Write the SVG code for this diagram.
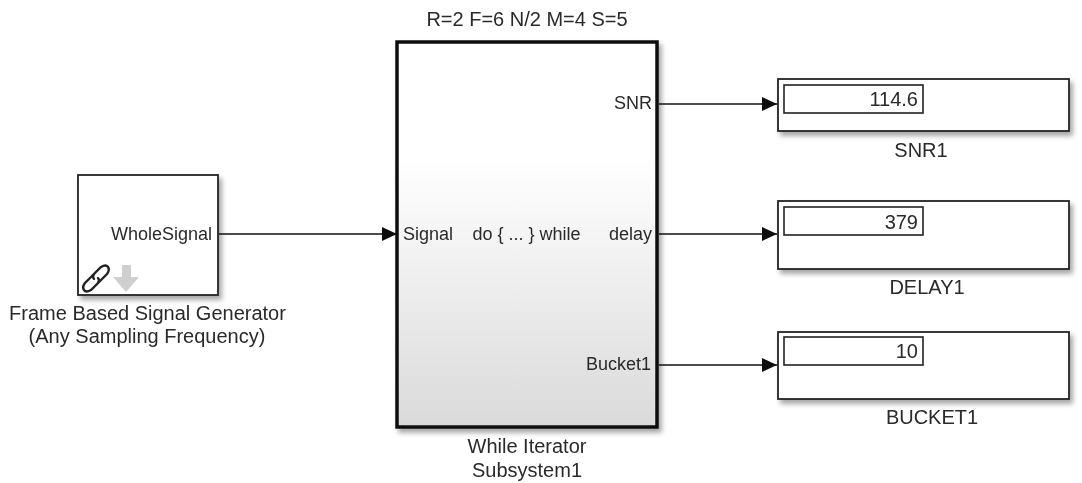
<svg xmlns="http://www.w3.org/2000/svg" width="1082" height="483" viewBox="0 0 1082 483">
<style>
text{font-family:"Liberation Sans",Arial,sans-serif;font-size:20px;fill:#2a2a2a}
.p{font-size:18px}
.m{text-anchor:middle}.e{text-anchor:end}
.b{fill:#fff;stroke:#222;stroke-width:1.8;filter:url(#sh)}
.d{fill:#fff;stroke:#222;stroke-width:1.6}
.c{fill:none;stroke:#111;stroke-width:1.6;marker-end:url(#a)}
.l{fill:none;stroke:#222;stroke-width:2.4;stroke-linecap:round}
</style>
<defs>
<linearGradient id="g" x1="0" y1="0" x2="0" y2="1"><stop offset="0.3" stop-color="#fff"/><stop offset="1" stop-color="#dadada"/></linearGradient>
<filter id="sh" x="-10%" y="-10%" width="125%" height="130%"><feDropShadow dx="3" dy="4" stdDeviation="2.5" flood-color="#000" flood-opacity="0.35"/></filter>
<filter id="soft" filterUnits="userSpaceOnUse" x="0" y="0" width="1082" height="483"><feGaussianBlur stdDeviation="0.45"/></filter>
<marker id="a" markerUnits="userSpaceOnUse" markerWidth="16" markerHeight="14" refX="15" refY="7" orient="auto"><path d="M0 0L15 7L0 14Z" fill="#111"/></marker>
</defs>
<rect width="1082" height="483" fill="#fff"/>
<g filter="url(#soft)">
<g id="generator">
<rect class="b" x="78" y="175" width="140" height="120"/>
<text class="e p" x="212" y="240">WholeSignal</text>
<path class="l" d="M93 275l-8 8q-3 4 -1 7t7 0l7-7q2-3 0-5"/>
<path class="l" d="M99 282l8-8q3-4 1-7t-7 0l-7 7q-2 3 0 5"/>
<path d="M122 265h9v12h8l-13 15l-13-15h9z" fill="#cfcfcf"/>
<text class="m" x="147.500" y="320">Frame Based Signal Generator</text>
<text class="m" x="147" y="343">(Any Sampling Frequency)</text>
</g>
<g id="subsystem">
<text class="m" x="527" y="26">R=2 F=6 N/2 M=4 S=5</text>
<rect x="397" y="42" width="260" height="385" fill="url(#g)" stroke="#111" stroke-width="3.5" filter="url(#sh)"/>
<text class="p" x="403" y="240">Signal</text>
<text class="m p" x="526.500" y="240">do { ... } while</text>
<text class="e p" x="652" y="109">SNR</text>
<text class="e p" x="652" y="240">delay</text>
<text class="e p" x="651" y="370">Bucket1</text>
<text class="m" x="527" y="453">While Iterator</text>
<text class="m" x="527" y="477">Subsystem1</text>
</g>
<g id="snr1">
<rect class="b" x="778" y="79" width="291" height="52"/>
<rect class="d" x="784" y="85" width="139" height="28"/>
<text class="e" x="918" y="106">114.6</text>
<text class="m" x="921" y="157">SNR1</text>
</g>
<g id="delay1">
<rect class="b" x="778" y="201" width="291" height="68"/>
<rect class="d" x="784" y="207" width="139" height="28"/>
<text class="e" x="918" y="229">379</text>
<text class="m" x="927" y="294">DELAY1</text>
</g>
<g id="bucket1">
<rect class="b" x="778" y="332" width="291" height="67"/>
<rect class="d" x="784" y="337" width="139" height="28"/>
<text class="e" x="918" y="358">10</text>
<text class="m" x="932" y="424">BUCKET1</text>
</g>
<g id="connectors">
<path class="c" d="M219 234H397"/>
<path class="c" d="M659 104H777"/>
<path class="c" d="M659 234H777"/>
<path class="c" d="M659 365H777"/>
</g>
</g>
</svg>
